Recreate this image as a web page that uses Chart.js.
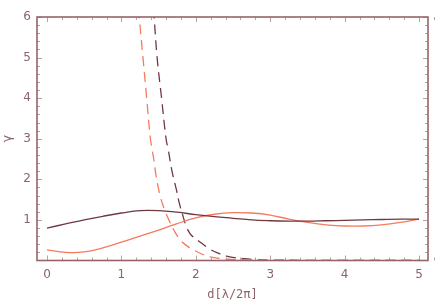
<!DOCTYPE html>
<html>
<head>
<meta charset="utf-8">
<script src="https://cdn.jsdelivr.net/npm/chart.js@4"></script>
<style>
  html, body { margin: 0; padding: 0; background: #fff; }
  #wrap { width: 436px; height: 302px; }
</style>
</head>
<body>
<div id="wrap"><canvas id="c" width="436" height="302"></canvas></div>
<script>
// 実線の x 座標
const xSolid = [0, 0.25, 0.5, 0.75, 1, 1.25, 1.5, 1.75, 2, 2.25, 2.5, 2.75, 3, 3.25, 3.5, 3.75, 4, 4.25, 4.5, 4.75, 5];
const darkSolid = [0.80, 0.90, 1.00, 1.09, 1.17, 1.23, 1.23, 1.19, 1.13, 1.08, 1.04, 1.00, 0.98, 0.97, 0.97, 0.98, 0.99, 1.00, 1.01, 1.02, 1.02];
const orangeSolid = [0.26, 0.20, 0.21, 0.31, 0.45, 0.60, 0.75, 0.91, 1.05, 1.14, 1.18, 1.17, 1.12, 1.02, 0.94, 0.88, 0.85, 0.85, 0.88, 0.94, 1.02];

// 破線 (急降下するカーブ)
const xOrangeDash = [1.19, 1.24, 1.29, 1.34, 1.39, 1.43, 1.47, 1.52, 1.58, 1.65, 1.72, 1.79, 1.88, 1.97, 2.08, 2.19, 2.32, 2.46, 2.7, 3.0, 3.5, 4, 5];
const orangeDash = [7, 6, 5, 4, 3, 2.55, 2.05, 1.6, 1.25, 0.95, 0.70, 0.51, 0.36, 0.26, 0.16, 0.09, 0.05, 0.03, 0.015, 0.006, 0.002, 0, 0];
const xDarkDash = [1.40, 1.44, 1.48, 1.54, 1.60, 1.63, 1.68, 1.74, 1.78, 1.83, 1.87, 1.92, 1.97, 2.06, 2.19, 2.30, 2.41, 2.52, 2.64, 2.8, 3.0, 3.5, 4, 5];
const darkDash = [7, 6, 5, 4, 3, 2.73, 2.2, 1.74, 1.4, 1.08, 0.85, 0.67, 0.57, 0.45, 0.28, 0.18, 0.11, 0.07, 0.045, 0.025, 0.012, 0.003, 0, 0];

const xTicks = [0, 1, 2, 3, 4, 5];
const yTicks = [1, 2, 3, 4, 5, 6];

const DARK = 'rgb(112,56,66)';
const ORANGE = 'rgb(246,122,92)';
const FRAME = 'rgb(150,100,104)';
const TEXT = 'rgb(138,100,104)';

function pts(xs, ys) {
  return xs.map((x, i) => ({ x: x, y: ys[i] }));
}

// 枠と内向きの目盛りを描く
const frameTicks = {
  id: 'frameTicks',
  afterDatasetsDraw(chart) {
    const { ctx, chartArea: a, scales } = chart;
    const sx = scales.x, sy = scales.y;
    ctx.save();
    ctx.strokeStyle = 'rgb(190,160,160)';
    ctx.lineWidth = 1;
    ctx.beginPath();
    for (let i = 0; i <= 26; i++) {
      const v = i * 0.2;
      const px = Math.round(sx.getPixelForValue(v)) + 0.5;
      const len = (i % 5 === 0) ? 5 : 3;
      ctx.moveTo(px, a.bottom); ctx.lineTo(px, a.bottom - len);
      ctx.moveTo(px, a.top); ctx.lineTo(px, a.top + len);
    }
    for (let i = 1; i <= 30; i++) {
      const v = i * 0.2;
      const py = Math.round(sy.getPixelForValue(v)) + 0.5;
      const len = (i % 5 === 0) ? 5 : 3;
      ctx.moveTo(a.left, py); ctx.lineTo(a.left + len, py);
      ctx.moveTo(a.right, py); ctx.lineTo(a.right - len, py);
    }
    ctx.stroke();
    ctx.strokeStyle = FRAME;
    ctx.lineWidth = 1.6;
    ctx.strokeRect(a.left, a.top, a.right - a.left, a.bottom - a.top);
    ctx.restore();
  }
};

const line = (data, color, dash) => ({
  data: data,
  borderColor: color,
  borderWidth: 1.3,
  borderDash: dash,
  pointRadius: 0,
  showLine: true,
  fill: false,
  tension: 0.4
});

new Chart(document.getElementById('c'), {
  type: 'scatter',
  data: {
    datasets: [
      line(pts(xSolid, darkSolid), DARK, []),
      line(pts(xSolid, orangeSolid), ORANGE, []),
      line(pts(xOrangeDash, orangeDash), ORANGE, [10, 6]),
      line(pts(xDarkDash, darkDash), DARK, [10, 6])
    ]
  },
  options: {
    responsive: false,
    animation: false,
    layout: { padding: { top: 17, right: 8, left: 0, bottom: 0 } },
    plugins: { legend: { display: false }, tooltip: { enabled: false } },
    scales: {
      x: {
        type: 'linear',
        min: -0.134,
        max: 5.12,
        afterBuildTicks: (s) => { s.ticks = xTicks.map(v => ({ value: v })); },
        afterFit: (s) => { s.height = 41.5; },
        grid: { display: false, drawTicks: false },
        border: { display: false },
        ticks: { color: TEXT, font: { family: 'DejaVu Sans', size: 12 }, padding: 7 },
        title: {
          display: true,
          text: 'd[λ/2π]',
          color: TEXT,
          font: { family: 'DejaVu Sans Mono', size: 12 },
          padding: { top: 0, bottom: 0 }
        }
      },
      y: {
        min: 0,
        max: 6,
        afterBuildTicks: (s) => { s.ticks = yTicks.map(v => ({ value: v })); },
        afterFit: (s) => { s.width = 37; },
        grid: { display: false, drawTicks: false },
        border: { display: false },
        ticks: { color: TEXT, font: { family: 'DejaVu Sans', size: 12 }, padding: 6 },
        title: {
          display: true,
          text: 'γ',
          color: TEXT,
          font: { family: 'DejaVu Sans', size: 13 },
          padding: { top: 0, bottom: 4 }
        }
      }
    }
  },
  plugins: [frameTicks]
});
</script>
</body>
</html>
